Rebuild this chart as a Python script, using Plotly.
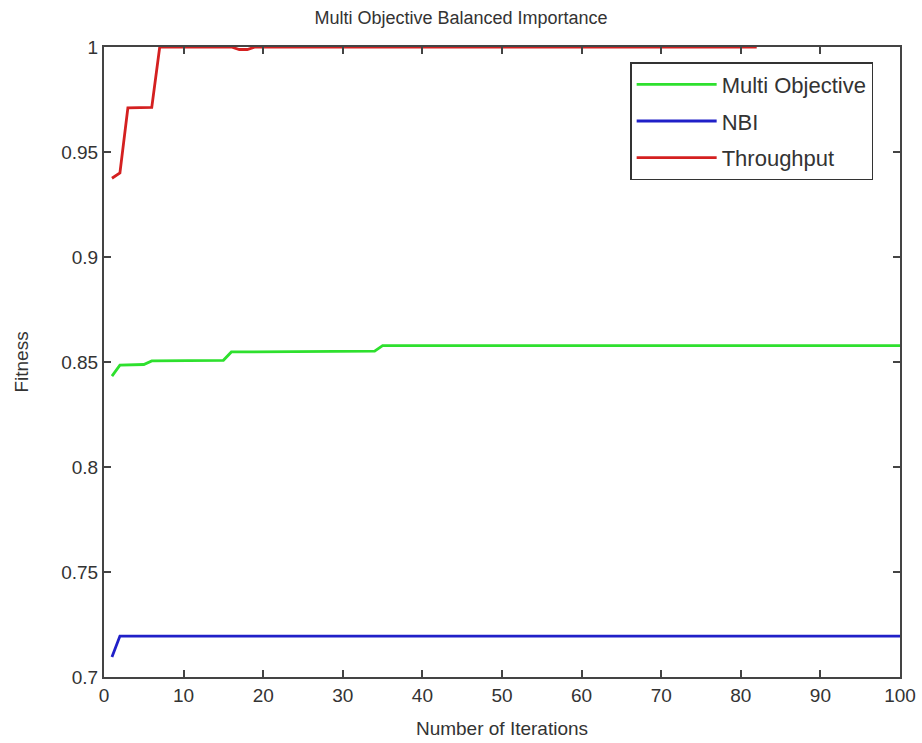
import plotly.graph_objects as go

# Data (breakpoints)
multi_x = [1, 2, 5, 6, 15, 16, 34, 35, 100]
multi_y = [0.8433, 0.8485, 0.8488, 0.8505, 0.8508, 0.8548, 0.8552, 0.8578, 0.8578]

nbi_x = [1, 2, 100]
nbi_y = [0.7095, 0.7195, 0.7195]

thr_x = [1, 2, 3, 6, 7, 16, 17, 18, 19, 82]
thr_y = [0.9375, 0.9400, 0.9710, 0.9712, 1.0, 1.0, 0.9988, 0.9988, 1.0, 1.0]

x_ticks = [0, 10, 20, 30, 40, 50, 60, 70, 80, 90, 100]
y_ticks = [0.7, 0.75, 0.8, 0.85, 0.9, 0.95, 1.0]
y_tick_text = ["0.7", "0.75", "0.8", "0.85", "0.9", "0.95", "1"]

FONT = "Liberation Sans Narrow, Arial Narrow, Liberation Sans, sans-serif"
TXT = "#333333"

fig = go.Figure()
fig.add_trace(go.Scatter(x=multi_x, y=multi_y, mode="lines", name="Multi Objective",
                         legendgroup="a", line=dict(color="#2ee02e", width=2.8)))
fig.add_trace(go.Scatter(x=nbi_x, y=nbi_y, mode="lines", name="NBI",
                         legendgroup="b", line=dict(color="#2020c8", width=2.8)))
fig.add_trace(go.Scatter(x=thr_x, y=thr_y, mode="lines", name="Throughput",
                         legendgroup="c", line=dict(color="#d42020", width=2.8),
                         cliponaxis=False))

axis_common = dict(
    showline=True, linecolor="#444444", linewidth=2, mirror="ticks",
    ticks="inside", ticklen=7, tickcolor="#444444", tickwidth=1.5,
    showgrid=False, zeroline=False, automargin=False,
    tickfont=dict(family=FONT, size=19, color=TXT),
)

fig.update_layout(
    width=922, height=743,
    margin=dict(l=104, r=22, t=47, b=66),
    paper_bgcolor="white", plot_bgcolor="white",
    title=dict(text="Multi Objective Balanced Importance", x=0.5, xanchor="center",
               y=1 - 18 / 743, yanchor="middle",
               font=dict(family=FONT, size=18, color=TXT)),
    xaxis=dict(range=[0, 100], tickvals=x_ticks, ticktext=[str(v) for v in x_ticks],
               title=dict(text="Number of Iterations", standoff=17,
                          font=dict(family=FONT, size=19, color=TXT)),
               **axis_common),
    yaxis=dict(range=[0.7, 1.0], tickvals=y_ticks, ticktext=y_tick_text,
               title=dict(text="Fitness", standoff=28,
                          font=dict(family=FONT, size=19, color=TXT)),
               **axis_common),
    legend=dict(x=0.661, y=0.976, xanchor="left", yanchor="top",
                bgcolor="white", bordercolor="#333333", borderwidth=1.5,
                font=dict(family=FONT, size=22, color=TXT),
                itemwidth=80, tracegroupgap=5),
    showlegend=True,
)

fig.write_html("out.html")
